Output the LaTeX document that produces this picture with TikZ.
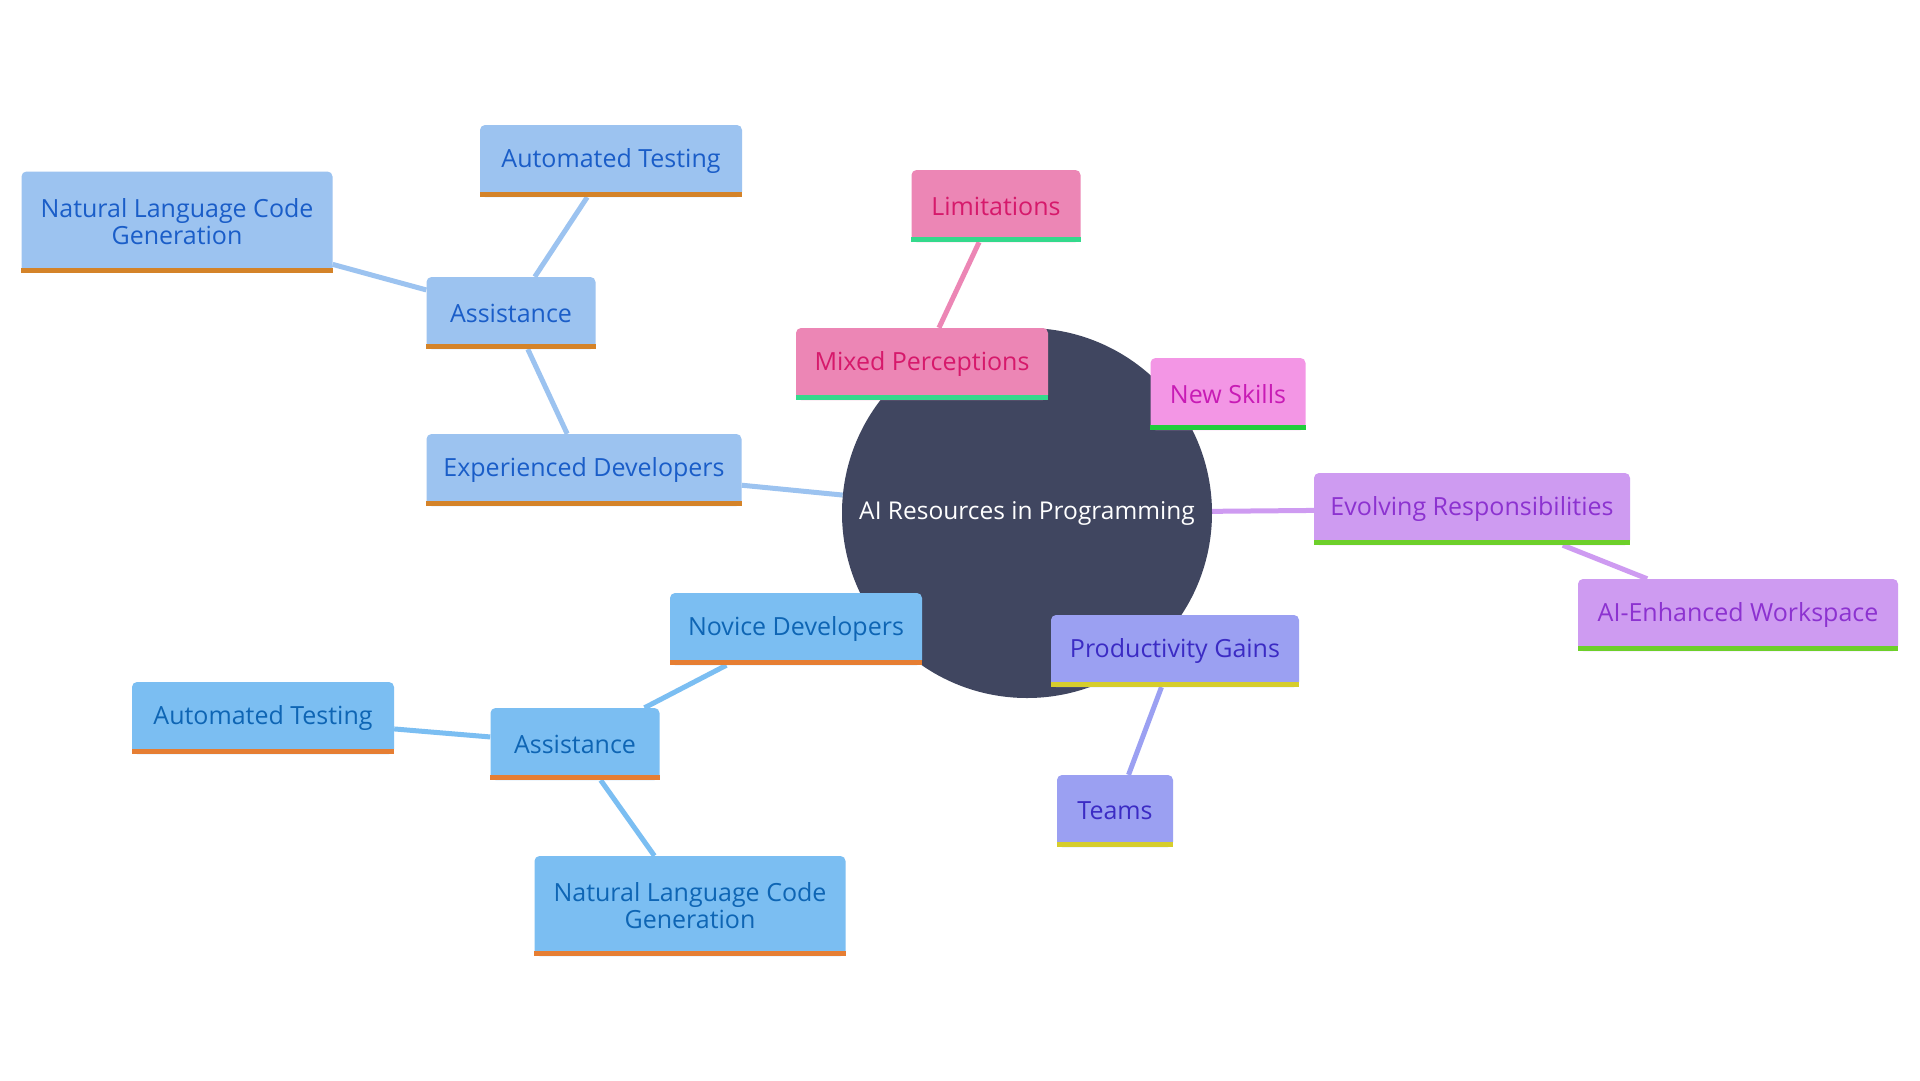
\documentclass[tikz,border=0pt]{standalone}
\usepackage{fontspec}
\setmainfont{Open Sans}
\usetikzlibrary{backgrounds}

% Colours
\definecolor{hubfill}{HTML}{404660}
\definecolor{expfill}{HTML}{9CC3F0}
\definecolor{exptext}{HTML}{1A5DC8}
\definecolor{expbar}{HTML}{D48329}
\definecolor{novfill}{HTML}{7BBEF2}
\definecolor{novtext}{HTML}{0E65B4}
\definecolor{novbar}{HTML}{E67E33}
\definecolor{pinkfill}{HTML}{EC86B5}
\definecolor{pinktext}{HTML}{D6196B}
\definecolor{pinkbar}{HTML}{34D98C}
\definecolor{skillfill}{HTML}{F396E5}
\definecolor{skilltext}{HTML}{C81BB5}
\definecolor{skillbar}{HTML}{20CD3B}
\definecolor{evofill}{HTML}{CE9BF1}
\definecolor{evotext}{HTML}{8C32D0}
\definecolor{evobar}{HTML}{6DCF2A}
\definecolor{prodfill}{HTML}{9BA0F2}
\definecolor{prodtext}{HTML}{3B2BC4}
\definecolor{prodbar}{HTML}{D6CD2C}

\tikzset{
  leaf/.style={rectangle, rounded corners=5pt, minimum height=72pt, inner xsep=14pt,
    align=center, font=\fontsize{25}{27}\selectfont},
  expnode/.style={leaf, fill=expfill, text=exptext},
  novnode/.style={leaf, fill=novfill, text=novtext},
  pinknode/.style={leaf, fill=pinkfill, text=pinktext},
  skillnode/.style={leaf, fill=skillfill, text=skilltext},
  evonode/.style={leaf, fill=evofill, text=evotext},
  prodnode/.style={leaf, fill=prodfill, text=prodtext},
  link/.style={line width=5pt},
}

\begin{document}
\begin{tikzpicture}[x=1pt, y=-1pt]
    \useasboundingbox (0,0) rectangle (1920,1080);

    % Nodes
    \node[circle, fill=hubfill, minimum size=370pt, inner sep=0pt, text=white, font=\fontsize{24.5}{28}\selectfont] (hub) at (1027,513) {AI Resources in Programming};

    \node[expnode, minimum width=315pt] (expdev) at (584,470) {Experienced Developers};
    \node[expnode, minimum width=169pt] (assistT) at (511,313) {Assistance};
    \node[expnode, minimum width=262pt] (autoT) at (611,161) {Automated Testing};
    \node[expnode, minimum width=311pt, minimum height=101pt] (nlcgT) at (177,222) {Natural Language Code\\Generation};

    \node[novnode, minimum width=252pt] (novice) at (796,629) {Novice Developers};
    \node[novnode, minimum width=169pt] (assistB) at (575,744) {Assistance};
    \node[novnode, minimum width=262pt] (autoB) at (263,718) {Automated Testing};
    \node[novnode, minimum width=311pt, minimum height=100pt] (nlcgB) at (690,906) {Natural Language Code\\Generation};

    \node[pinknode, minimum width=252pt] (mixed) at (922,364) {Mixed Perceptions};
    \node[pinknode, minimum width=169pt] (limits) at (996,206) {Limitations};

    \node[skillnode, minimum width=155pt] (skills) at (1228,394) {New Skills};

    \node[evonode, minimum width=316pt] (evolving) at (1472,509) {Evolving Responsibilities};
    \node[evonode, minimum width=320pt] (workspace) at (1738,615) {AI-Enhanced Workspace};

    \node[prodnode, minimum width=248pt] (prod) at (1175,651) {Productivity Gains};
    \node[prodnode, minimum width=116pt] (teams) at (1115,811) {Teams};

    % Bottom bars
    \foreach \n/\c in {expdev/expbar, assistT/expbar, autoT/expbar, nlcgT/expbar,
                       novice/novbar, assistB/novbar, autoB/novbar, nlcgB/novbar,
                       mixed/pinkbar, limits/pinkbar, skills/skillbar,
                       evolving/evobar, workspace/evobar, prod/prodbar, teams/prodbar}
        \fill[\c] (\n.south west) rectangle ([yshift=5pt]\n.south east);

    % Edges
    \begin{scope}[on background layer]
        \fill[white] (0,0) rectangle (1920,1080);
        \foreach \a/\b/\c in {hub/expdev/expfill, expdev/assistT/expfill, assistT/autoT/expfill, assistT/nlcgT/expfill,
                              hub/novice/novfill, novice/assistB/novfill, assistB/autoB/novfill, assistB/nlcgB/novfill,
                              hub/mixed/pinkfill, mixed/limits/pinkfill, hub/skills/skillfill,
                              hub/evolving/evofill, evolving/workspace/evofill,
                              hub/prod/prodfill, prod/teams/prodfill}
            \draw[link, \c] (\a) -- (\b);
    \end{scope}
\end{tikzpicture}
\end{document}
